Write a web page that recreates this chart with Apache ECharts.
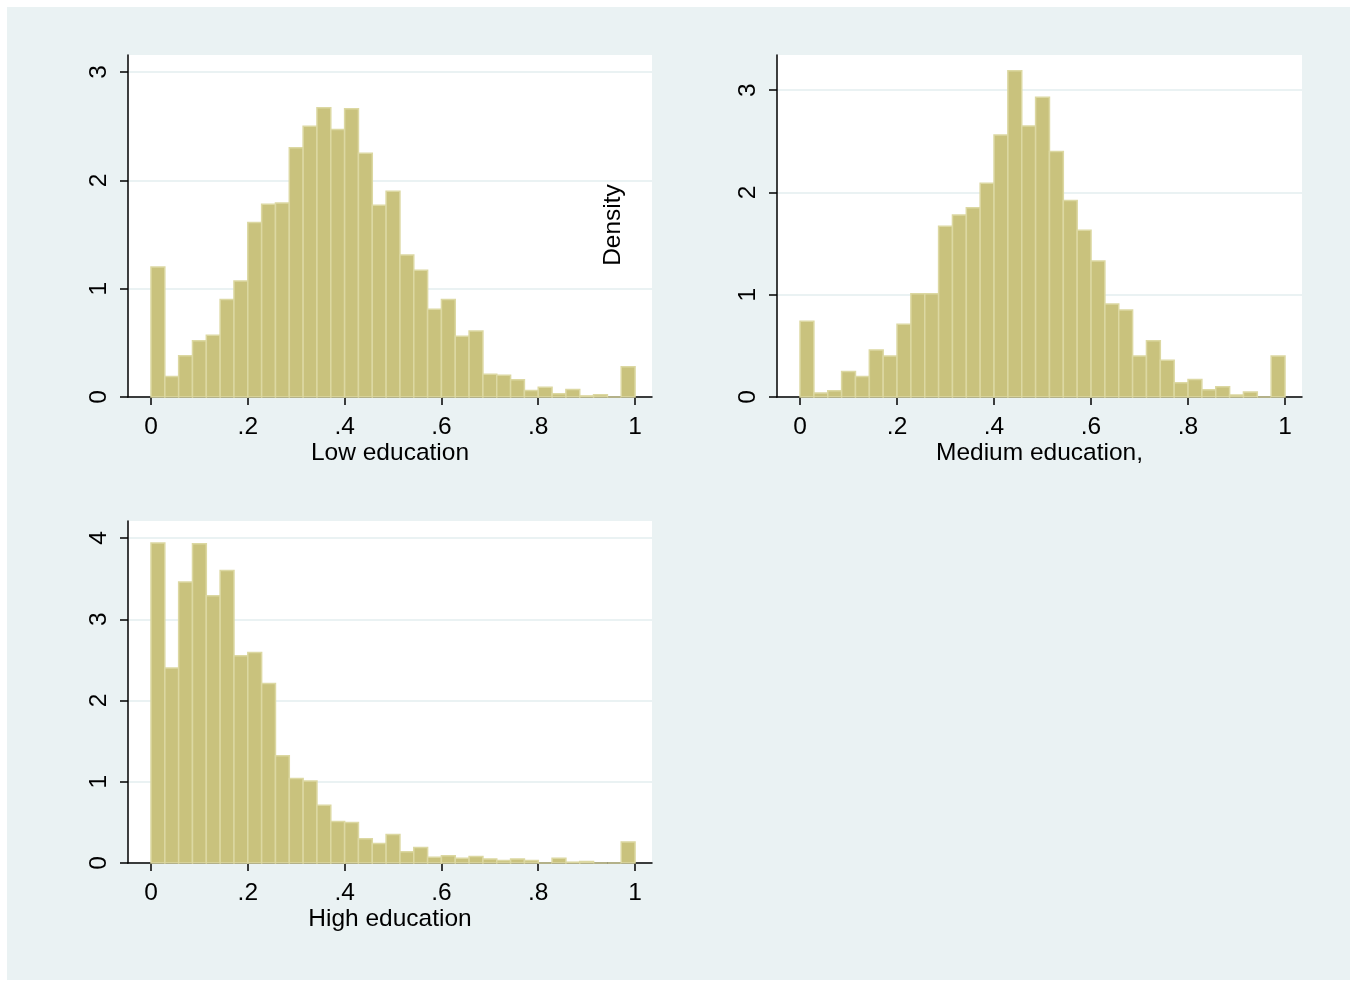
<!DOCTYPE html>
<html><head><meta charset="utf-8">
<script src="https://cdn.jsdelivr.net/npm/echarts@6/dist/echarts.min.js"></script>
<style>html,body{margin:0;background:#fff;}#c{position:absolute;left:7px;top:7px;width:1343px;height:973px;}</style>
</head><body><div id="c"></div>
<script>
const binWidth = 1/35;
const lowEdu = [1.20,0.19,0.38,0.52,0.57,0.90,1.07,1.61,1.78,1.79,2.30,2.50,2.67,2.47,2.66,2.25,1.77,1.90,1.31,1.17,0.81,0.90,0.56,0.61,0.21,0.20,0.16,0.06,0.09,0.03,0.07,0.01,0.02,0,0.28];
const medEdu = [0.74,0.04,0.06,0.25,0.20,0.46,0.40,0.71,1.01,1.01,1.67,1.78,1.85,2.09,2.56,3.19,2.65,2.93,2.40,1.92,1.63,1.33,0.91,0.85,0.40,0.55,0.36,0.14,0.17,0.07,0.10,0.02,0.05,0,0.40];
const highEdu = [3.94,2.40,3.46,3.93,3.29,3.60,2.55,2.59,2.21,1.32,1.04,1.01,0.71,0.51,0.50,0.30,0.24,0.35,0.14,0.19,0.07,0.09,0.06,0.08,0.05,0.03,0.05,0.03,0.00,0.06,0.01,0.02,0,0,0.26];
const xTicks = [0,0.2,0.4,0.6,0.8,1];
const xTickLabels = ['0','.2','.4','.6','.8','1'];
const titles = ['Low education','Medium education,','High education'];
const yMax = [3.157,3.343,4.21];
const yTicks = [[0,1,2,3],[0,1,2,3],[0,1,2,3,4]];

const grids = [
  {left:121, top:48, width:524, height:342},
  {left:770, top:48, width:525, height:342},
  {left:121, top:514, width:524, height:342}
];
const font = 'Liberation Sans, Arial, sans-serif';
const FS = 24.5;
const series=[], xAxis=[], yAxis=[];
[lowEdu,medEdu,highEdu].forEach((vals,i)=>{
  xAxis.push({type:'value', gridIndex:i, min:-0.0475, max:1.035,
    axisLine:{show:true,onZero:false,lineStyle:{color:'#000',width:1.5}},
    axisTick:{show:true,length:8,customValues:xTicks,lineStyle:{color:'#000',width:1.5}},
    axisLabel:{customValues:xTicks,fontSize:FS,color:'#000',fontFamily:font,margin:18,
      formatter:v=>{const k=xTicks.findIndex(t=>Math.abs(t-v)<1e-9);return k>=0?xTickLabels[k]:'';}},
    splitLine:{show:false},
    name:titles[i], nameLocation:'middle', nameGap:44,
    nameTextStyle:{fontSize:FS,color:'#000',fontFamily:font}});
  yAxis.push({type:'value', gridIndex:i, min:0, max:yMax[i],
    axisLine:{show:true,onZero:false,lineStyle:{color:'#000',width:1.5}},
    axisTick:{show:true,length:8,customValues:yTicks[i],lineStyle:{color:'#000',width:1.5}},
    axisLabel:{customValues:yTicks[i],rotate:90,fontSize:FS,color:'#000',fontFamily:font,margin:16},
    splitLine:{show:true,lineStyle:{color:'#eaf2f3',width:2}}});
  series.push({type:'custom', xAxisIndex:i, yAxisIndex:i,
    data: vals.map((v,k)=>[k*binWidth,v]),
    renderItem:(params,api)=>{
      const x0=api.value(0), v=api.value(1);
      const p0=api.coord([x0,0]), p1=api.coord([x0+binWidth,v]);
      return {type:'rect', shape:{x:p0[0],y:p1[1],width:p1[0]-p0[0],height:p0[1]-p1[1]},
        style:{fill:'#c9c27d',stroke:'#dcd8a2',lineWidth:1.5}};
    }});
});
const chart=echarts.init(document.getElementById('c'));
chart.setOption({
  backgroundColor:'#eaf2f3', animation:false,
  grid:grids.map(g=>Object.assign({show:true,backgroundColor:'#fff',borderWidth:0},g)),
  xAxis, yAxis, series,
  graphic:[{type:'text', x:606, y:218, rotation:Math.PI/2,
    style:{text:'Density', fill:'#000', font:FS+'px '+font, textAlign:'center', textVerticalAlign:'middle'}}]
});
</script></body></html>
